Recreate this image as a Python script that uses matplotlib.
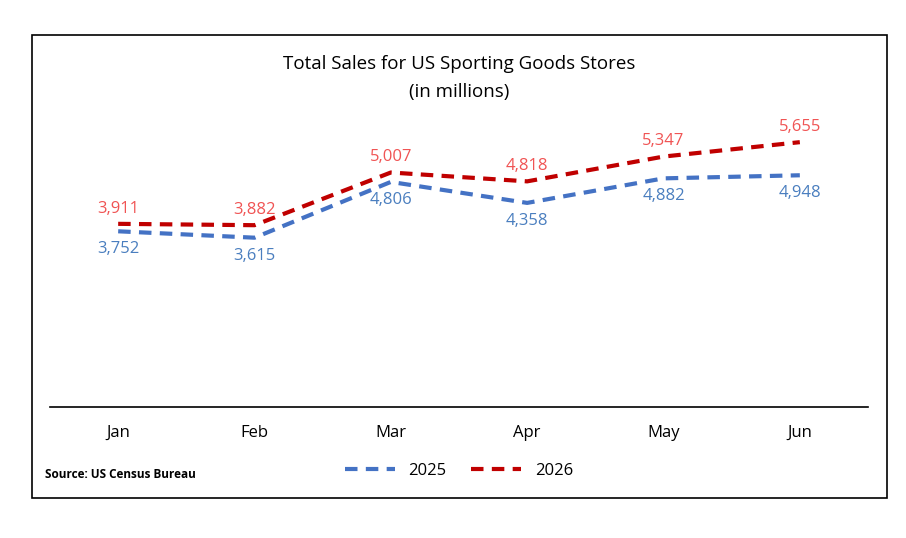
import matplotlib.pyplot as plt
from matplotlib.patches import Rectangle

months = ["Jan", "Feb", "Mar", "Apr", "May", "Jun"]
sales_2025 = [3752, 3615, 4806, 4358, 4882, 4948]
sales_2026 = [3911, 3882, 5007, 4818, 5347, 5655]

plt.rcParams['font.family'] = ['Open Sans', 'DejaVu Sans']

fig = plt.figure(figsize=(9.06, 5.38), dpi=100)
fig.patches.append(Rectangle((32/906, 1-498/538), 855/906, 463/538, transform=fig.transFigure,
                             fill=False, edgecolor="black", linewidth=1.2))

ax = fig.add_axes([50/906, 1-407/538, 818/906, 281/538])
x = range(len(months))
ax.plot(x, sales_2025, color="#4472C4", lw=3, ls=(0, (3, 2)), label="2025")
ax.plot(x, sales_2026, color="#C00000", lw=3, ls=(0, (3, 2)), label="2026")
for i, (a, b) in enumerate(zip(sales_2025, sales_2026)):
    ax.annotate(f"{a:,}", (i, a), xytext=(0, -13), textcoords="offset points",
                ha="center", va="center", color="#4A7EBF", fontsize=12)
    ax.annotate(f"{b:,}", (i, b), xytext=(0, 11), textcoords="offset points",
                ha="center", va="center", color="#F05454", fontsize=12)

ax.set_xlim(-0.5, 5.5)
ax.set_ylim(0, 6000)
ax.set_xticks(list(x))
ax.set_xticklabels(months, fontsize=12)
ax.tick_params(length=0, pad=13)
ax.set_yticks([])
for s in ["top", "left", "right"]:
    ax.spines[s].set_visible(False)
ax.spines["bottom"].set_linewidth(1.2)

fig.text(459/906, 1-64/538, "Total Sales for US Sporting Goods Stores", ha="center", va="center", fontsize=13.5)
fig.text(459/906, 1-92/538, "(in millions)", ha="center", va="center", fontsize=13.5)
fig.text(45/906, 1-474/538, "Source: US Census Bureau", ha="left", va="center", fontsize=8.5, fontweight="bold")
fig.legend(loc="center", bbox_to_anchor=(459/906, 1-471/538), ncol=2, frameon=False,
           fontsize=12, handlelength=3, columnspacing=1.5)

fig.savefig("out.png", dpi=100)
